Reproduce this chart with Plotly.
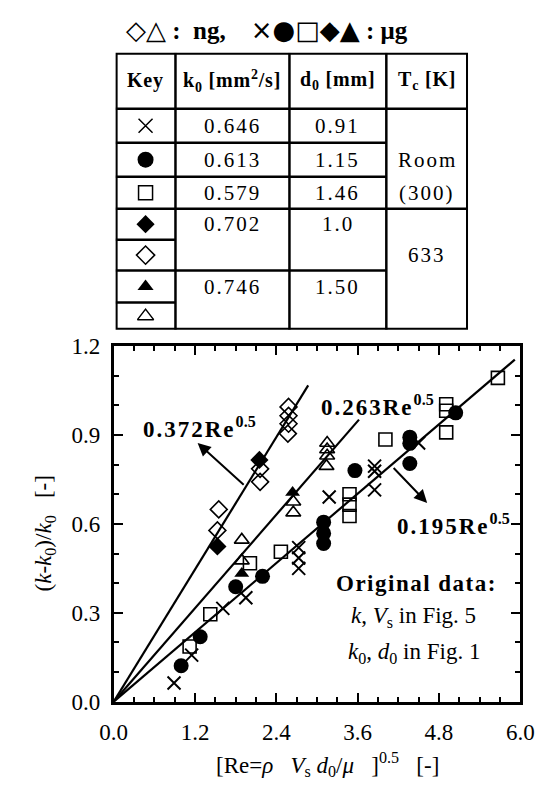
import plotly.graph_objects as go

W, H = 558, 797
FONT = "Liberation Serif"

# ---------------- data ----------------
x_cross = [0.89, 1.15, 1.61, 1.95, 2.73, 2.73, 2.73, 3.18, 3.85, 3.85, 3.85, 4.50]
y_cross = [0.063, 0.157, 0.315, 0.351, 0.52, 0.485, 0.45, 0.691, 0.795, 0.778, 0.715, 0.873]

x_circle = [0.995, 1.276, 1.80, 2.196, 3.098, 3.098, 3.098, 3.56, 4.37, 4.37, 4.37, 5.047]
y_circle = [0.121, 0.219, 0.388, 0.423, 0.606, 0.568, 0.534, 0.78, 0.893, 0.872, 0.804, 0.975]

x_square = [1.12, 1.425, 2.01, 2.467, 3.48, 3.48, 3.48, 4.01, 4.907, 4.907, 4.907, 5.67]
y_square = [0.186, 0.295, 0.467, 0.506, 0.70, 0.665, 0.627, 0.885, 1.004, 0.982, 0.909, 1.093]

x_diam_f = [1.53, 2.15]
y_diam_f = [0.524, 0.816]

x_diam_o = [1.55, 1.53, 2.16, 2.16, 2.58, 2.58, 2.58, 2.57]
y_diam_o = [0.649, 0.578, 0.786, 0.742, 0.995, 0.965, 0.938, 0.905]

x_tri_f = [1.89, 2.64]
y_tri_f = [0.433, 0.706]

x_tri_o = [1.89, 1.89, 2.65, 2.65, 3.15, 3.15, 3.15, 3.14]
y_tri_o = [0.546, 0.476, 0.675, 0.638, 0.873, 0.851, 0.83, 0.795]

fit_coef = [0.372, 0.263, 0.195]
fit_xend = [2.87, 3.62, 5.92]

x_ticks = [0.0, 1.2, 2.4, 3.6, 4.8, 6.0]
y_ticks = [0.0, 0.3, 0.6, 0.9, 1.2]

# table content
tbl_head = ["Key", "k<sub>0</sub> [mm<sup>2</sup>/s]", "d<sub>0</sub> [mm]", "T<sub>c</sub> [K]"]
tbl_keys = ["x-thin-open", "circle", "square-open", "diamond", "diamond-open",
            "triangle-up", "triangle-up-open"]
tbl_k0 = ["0.646", "0.613", "0.579", "0.702", "", "0.746", ""]
tbl_d0 = ["0.91", "1.15", "1.46", "1.0", "", "1.50", ""]
tbl_tc = [("Room", 1), ("(300)", 2), ("633", 4)]


def sp(text, ls=1.5):
    return f"<span style='letter-spacing:{ls}px'>{text}</span>"


# ---------------- figure ----------------
fig = go.Figure()

for c, xe in zip(fit_coef, fit_xend):
    fig.add_trace(go.Scatter(x=[0, xe], y=[0, c * xe], mode="lines",
                             line=dict(color="black", width=2.2),
                             hoverinfo="skip", showlegend=False))

series = [
    (x_cross, y_cross, "x-thin-open", 13, 2.0),
    (x_circle, y_circle, "circle", 15, 0),
    (x_square, y_square, "square-open", 13, 1.6),
    (x_diam_o, y_diam_o, "diamond-open", 13, 1.6),
    (x_diam_f, y_diam_f, "diamond", 14, 0),
    (x_tri_o, y_tri_o, "triangle-up-open", 13, 1.6),
    (x_tri_f, y_tri_f, "triangle-up", 13, 0),
]
for xs, ys, sym, sz, lw in series:
    fig.add_trace(go.Scatter(
        x=xs, y=ys, mode="markers", showlegend=False,
        marker=dict(symbol=sym, size=sz, color="black",
                    line=dict(color="black", width=lw))))

# table key markers
row_edges = [0, 58, 93, 128, 161, 193, 225, 258, 286]
col_edges = [0, 63, 183, 285, 371]
row_c = [(row_edges[i] + row_edges[i + 1]) / 2 for i in range(1, 8)]
key_x = (col_edges[0] + col_edges[1]) / 2
for sym, yc in zip(tbl_keys, row_c):
    filled = not sym.endswith("open")
    fig.add_trace(go.Scatter(
        x=[key_x], y=[yc], xaxis="x2", yaxis="y2", mode="markers",
        showlegend=False,
        marker=dict(symbol=sym, size=14 if sym != "circle" else 16, color="black",
                    line=dict(color="black", width=0 if filled else 1.5))))

axis_common = dict(showgrid=False, zeroline=False, ticks="inside", ticklen=9,
                   tickwidth=2, tickcolor="black", showline=True, linewidth=3,
                   linecolor="black", mirror="ticks", tickformat=".1f",
                   tickfont=dict(family=FONT, size=23, color="black"))

fig.update_layout(
    width=W, height=H, margin=dict(l=0, r=0, t=0, b=0),
    paper_bgcolor="white", plot_bgcolor="white",
    xaxis=dict(domain=[105 / W, 533 / W], range=[0, 6.0], tickvals=x_ticks,
               ticklabelstandoff=8,
               minor=dict(dtick=0.3, ticks="inside", ticklen=5, tickwidth=2,
                          tickcolor="black"),
               **axis_common),
    yaxis=dict(domain=[1 - 712 / H, 1 - 345 / H], range=[0, 1.2], tickvals=y_ticks,
               ticklabelstandoff=6,
               minor=dict(dtick=0.1, ticks="inside", ticklen=5, tickwidth=2,
                          tickcolor="black"),
               **axis_common),
    xaxis2=dict(domain=[107 / W, 478 / W], range=[0, 371], visible=False,
                anchor="y2", fixedrange=True),
    yaxis2=dict(domain=[1 - 328 / H, 1 - 42 / H], range=[286, 0], visible=False,
                anchor="x2", fixedrange=True),
)

# table lines
shapes = []
def tline(x0, y0, x1, y1, w=2.5):
    shapes.append(dict(type="line", xref="x2", yref="y2", x0=x0, y0=y0, x1=x1, y1=y1,
                       line=dict(color="black", width=w)))
for cx in col_edges[1:4]:
    tline(cx, 0, cx, 286)
tline(0, row_edges[1], 371, row_edges[1])
tline(0, row_edges[2], col_edges[3], row_edges[2])
tline(0, row_edges[3], col_edges[3], row_edges[3])
tline(0, row_edges[4], 371, row_edges[4])
tline(0, row_edges[5], col_edges[1], row_edges[5])
tline(0, row_edges[6], col_edges[3], row_edges[6])
tline(0, row_edges[7], col_edges[1], row_edges[7])
shapes.append(dict(type="rect", xref="x2", yref="y2", x0=0, y0=0, x1=371, y1=286,
                   line=dict(color="black", width=4)))
fig.update_layout(shapes=shapes)

ann = []
def T(x, y, text, size=19, xref="x2", yref="y2", **kw):
    d = dict(x=x, y=y, xref=xref, yref=yref, text=text, showarrow=False,
             xanchor="center", yanchor="middle",
             font=dict(family=FONT, size=size, color="black"))
    d.update(kw)
    ann.append(d)

for i, h in enumerate(tbl_head):
    T((col_edges[i] + col_edges[i + 1]) / 2, row_edges[1] / 2, "<b>" + sp(h, 0.8) + "</b>", size=20)
for i in range(7):
    if tbl_k0[i]:
        T((col_edges[1] + col_edges[2]) / 2, row_c[i], sp(tbl_k0[i], 2), size=21)
    if tbl_d0[i]:
        T((col_edges[2] + col_edges[3]) / 2, row_c[i], sp(tbl_d0[i], 2), size=21)
for txt, ri in tbl_tc:
    T((col_edges[3] + col_edges[4]) / 2, row_c[ri], sp(txt, 2), size=21)

# header line above table
sym_span = "<span style='font-family:DejaVu Sans;font-size:26px'>{}</span>"
T(266 / W, 1 - 19 / H,
  sym_span.format("\u25c7\u25b3") + "<b> :  ng,    </b>"
  + sym_span.format("\u00d7\u25cf\u25a1\u25c6\u25b2") + "<b> : \u03bcg</b>",
  size=25, xref="paper", yref="paper")

# plot annotations
T(1.27, 0.925, "<b>" + sp("0.372Re", 2) + "<sup>0.5</sup></b>", size=23, xref="x", yref="y")
T(3.90, 1.0, "<b>" + sp("0.263Re", 2) + "<sup>0.5</sup></b>", size=23, xref="x", yref="y")
T(5.02, 0.598, "<b>" + sp("0.195Re", 2) + "<sup>0.5</sup></b>", size=23, xref="x", yref="y")
T(4.47, 0.399, "<b>" + sp("Original data:", 1.5) + "</b>", size=23, xref="x", yref="y")
T(4.42, 0.285, "<i>k</i>, <i>V</i><sub>s</sub> in Fig. 5", size=23, xref="x", yref="y")
T(4.43, 0.165, "<i>k</i><sub>0</sub>, <i>d</i><sub>0</sub> in Fig. 1", size=23,
  xref="x", yref="y")

for (xa, ya, xh, yh) in [(1.94, 0.728, 1.238, 0.873), (4.11, 0.794, 4.626, 0.671)]:
    ann.append(dict(x=xh, y=yh, ax=xa, ay=ya, xref="x", yref="y", axref="x", ayref="y",
                    text="", showarrow=True, arrowhead=2, arrowsize=1.3, arrowwidth=2,
                    arrowcolor="black"))

# axis titles
T(330 / W, 1 - 777 / H,
  "[Re=<i>\u03c1</i>   <i>V</i><sub>s</sub> <i>d</i><sub>0</sub>/<i>\u03bc</i>   ]<sup>0.5</sup>   [-]",
  size=23, xref="paper", yref="paper")
T(33 / W, 1 - 538 / H,
  "(<i>k</i>-<i>k</i><sub>0</sub>)/<i>k</i><sub>0</sub>   [-]",
  size=23, xref="paper", yref="paper", textangle=-90)

fig.update_layout(annotations=ann)
fig.write_html("out.html")
